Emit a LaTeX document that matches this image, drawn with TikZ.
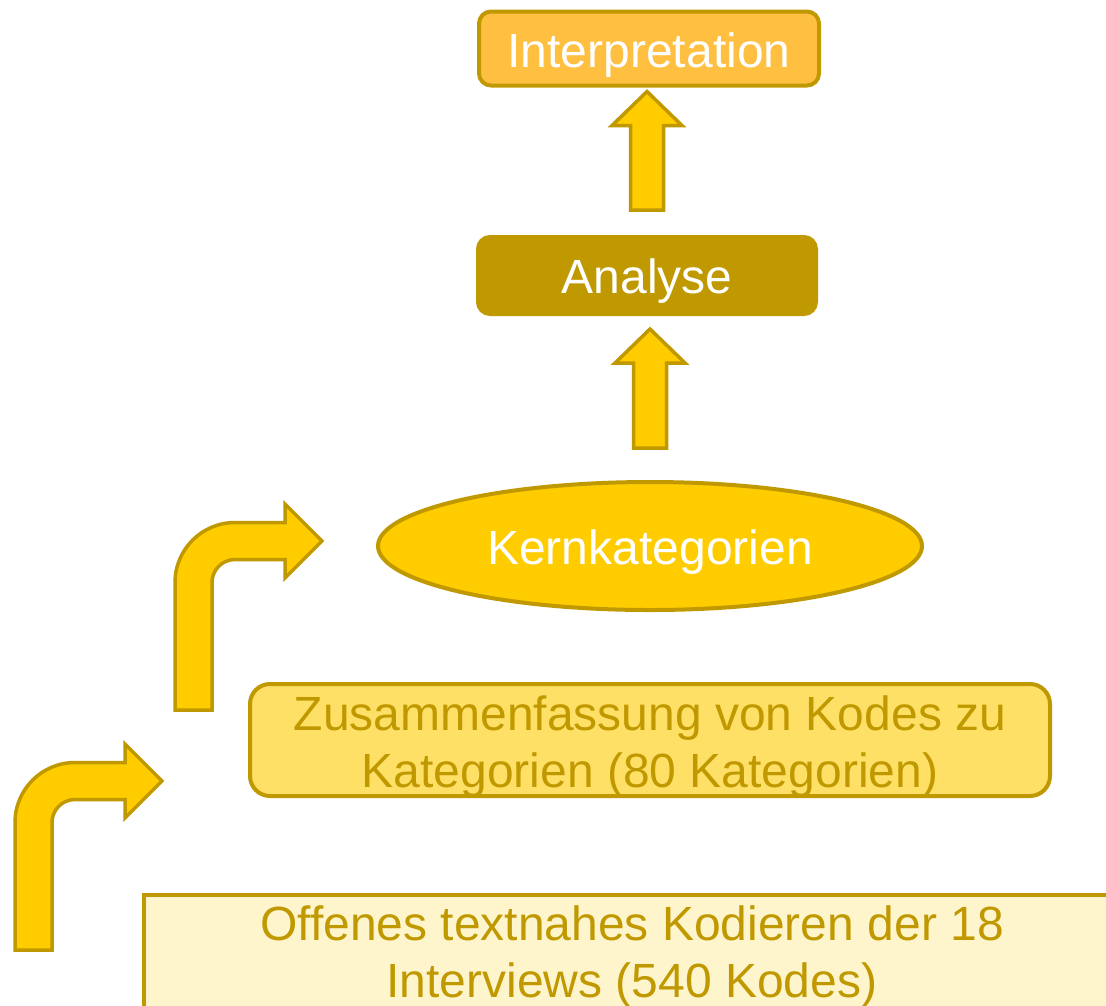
\documentclass[tikz,border=0pt]{standalone}
\usepackage{fontspec}
\setmainfont{Liberation Sans}
\usetikzlibrary{shapes.geometric,calc}
\definecolor{gold}{HTML}{C09900}
\definecolor{interpfill}{HTML}{FFBF40}
\definecolor{sunfill}{HTML}{FFCC00}
\definecolor{zusfill}{HTML}{FFE066}
\definecolor{offfill}{HTML}{FFF5CC}
\newcommand\uparr[2]{%
  \draw[arrowstyle] let \p1=(#1), \p2=(#2) in
    (\x1-16.5pt,\y1) -- (\x1-16.5pt,\y2-34pt) -- (\x1-35pt,\y2-34pt) -- (\x2,\y2)
    -- (\x1+35pt,\y2-34pt) -- (\x1+16.5pt,\y2-34pt) -- (\x1+16.5pt,\y1) -- cycle;}
\begin{document}
\begin{tikzpicture}[x=1pt,y=-1pt,
  bigfont/.style={font=\fontsize{48}{57}\selectfont},
  boxbase/.style={draw=gold, line width=4pt, inner sep=0pt, bigfont},
  interpbox/.style={boxbase, fill=interpfill, text=white, rounded corners=12pt},
  analysebox/.style={boxbase, fill=gold, text=white, rounded corners=12pt},
  kernshape/.style={boxbase, ellipse, fill=sunfill, text=white},
  zusbox/.style={boxbase, fill=zusfill, text=gold, rounded corners=20pt},
  offbox/.style={boxbase, fill=offfill, text=gold},
  arrowstyle/.style={draw=gold, fill=sunfill, line width=3.5pt, line join=miter},
  bentarrow/.pic={
    \draw[arrowstyle] (15,950) -- (15,822.5)
      .. controls (15,789.4) and (41.9,762.5) .. (75,762.5)
      -- (125,762.5) -- (125,744) -- (162,781) -- (125,818) -- (125,799.5)
      -- (75,799.5) .. controls (62.3,799.5) and (52,809.8) .. (52,822.5)
      -- (52,950) -- cycle;
  }]
\useasboundingbox (0,0) rectangle (1106,1005);
\clip (0,0) rectangle (1106,1005);

\node[interpbox, minimum width=340pt, minimum height=74pt, text height=37pt, text depth=0pt]
  (interp) at (649,48.5) {Interpretation};
\node[analysebox, minimum width=338pt, minimum height=77pt, text height=35pt, text depth=0pt]
  (analyse) at (647,275.5) {Analyse};
\node[kernshape, minimum width=544pt, minimum height=128pt, text height=36pt, text depth=0pt]
  (kern) at (650,546) {Kernkategorien};
\node[zusbox, minimum width=800pt, minimum height=112pt, text height=40pt, text depth=60pt]
  (zus) at (650,740) {\begin{tabular}[t]{@{}c@{}}Zusammenfassung von Kodes zu\\Kategorien (80 Kategorien)\end{tabular}};
\node[offbox, anchor=north, minimum width=976pt, minimum height=200pt, text height=45pt, text depth=155pt]
  (offen) at (632,893) {\begin{tabular}[t]{@{}c@{}}Offenes textnahes Kodieren der 18\\Interviews (540 Kodes)\end{tabular}};

\coordinate (a1bottom) at ($(analyse.north)+(0,-25)$);
\coordinate (a1tip) at ($(analyse.north |- interp.south)+(0,4)$);
\uparr{a1bottom}{a1tip}
\coordinate (a2bottom) at ($(kern.north)+(0,-32)$);
\coordinate (a2tip) at ($(kern.north |- analyse.south)+(0,13)$);
\uparr{a2bottom}{a2tip}

\pic (bent1) at (0,0) {bentarrow};
\pic (bent2) at (160,-240) {bentarrow};
\end{tikzpicture}
\end{document}
